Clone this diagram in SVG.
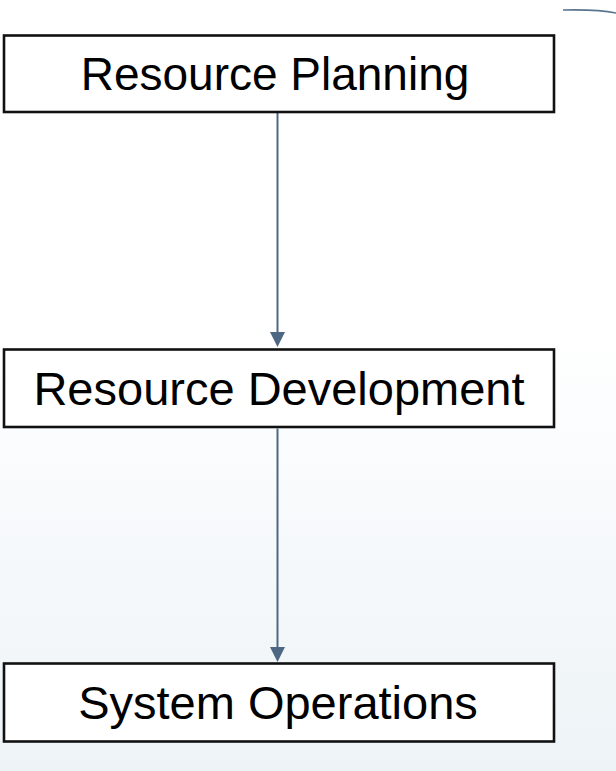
<svg xmlns="http://www.w3.org/2000/svg" width="616" height="771" viewBox="0 0 616 771">
  <defs>
    <linearGradient id="bg" x1="0" y1="0" x2="0" y2="1">
      <stop offset="0" stop-color="#ffffff"/>
      <stop offset="0.42" stop-color="#ffffff"/>
      <stop offset="1" stop-color="#edf3f7"/>
    </linearGradient>
    <marker id="head" markerUnits="userSpaceOnUse" markerWidth="15" markerHeight="15" refX="8" refY="7.5" orient="auto">
      <path d="M0,0 L15,7.5 L0,15 Z" fill="#4e6883"/>
    </marker>
  </defs>
  <style>
    .box { fill: #ffffff; stroke: #111111; stroke-width: 2.6; }
    .label { font-family: "Liberation Sans", Arial, sans-serif; font-size: 46px; fill: #000000; text-anchor: middle; }
    .wide { font-size: 47px; }
    .link { stroke: #4e6883; stroke-width: 2; fill: none; marker-end: url(#head); }
  </style>

  <!-- backdrop -->
  <rect x="0" y="0" width="616" height="771" fill="url(#bg)"/>
  <path d="M563,10 C585,9.5 604,10.5 616,13" fill="none" stroke="#5a7590" stroke-width="1.6"/>

  <!-- flow connectors -->
  <g id="connectors">
    <line class="link" x1="277.5" y1="113" x2="277.5" y2="340"/>
    <line class="link" x1="277.5" y1="428.5" x2="277.5" y2="655"/>
  </g>

  <g id="resource-planning">
    <rect class="box" x="4" y="35.5" width="550" height="76.5"/>
    <text class="label" x="275" y="90">Resource Planning</text>
  </g>

  <g id="resource-development">
    <rect class="box" x="4" y="349.5" width="550" height="77.5"/>
    <text class="label wide" x="279" y="405">Resource Development</text>
  </g>

  <g id="system-operations">
    <rect class="box" x="4" y="663.5" width="550" height="78"/>
    <text class="label wide" x="278" y="719">System Operations</text>
  </g>
</svg>
